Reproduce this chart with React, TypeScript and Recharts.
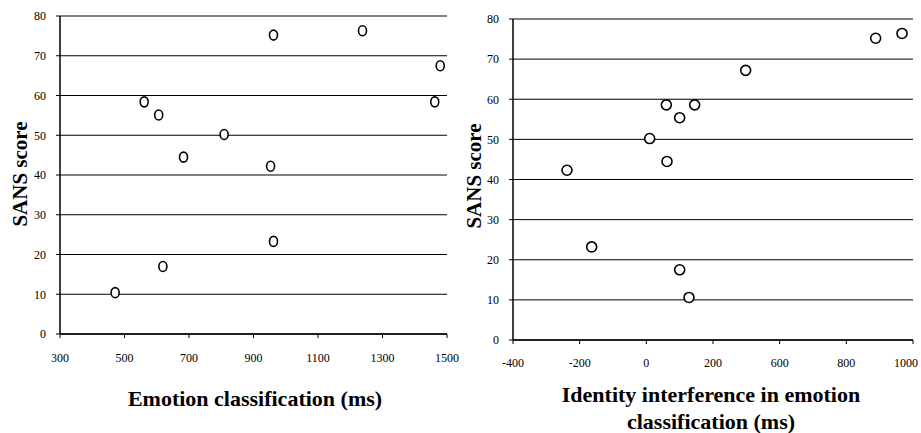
import React from "react";
import { ScatterChart, Scatter, XAxis, YAxis, CartesianGrid } from "recharts";

// Left panel: Emotion classification (ms) vs SANS score
const leftX = [471, 561, 606, 619, 683, 809, 953, 962, 962, 1238, 1462, 1479];
const leftY = [10.4, 58.4, 55.1, 17, 44.5, 50.2, 42.2, 75.2, 23.3, 76.3, 58.4, 67.5];
const leftXTicks = [300, 500, 700, 900, 1100, 1300, 1500];

// Right panel: Identity interference in emotion classification (ms) vs SANS score
const rightX = [-238, -164, 10, 60, 62, 100, 100, 128, 145, 298, 688, 767];
const rightY = [42.3, 23.2, 50.2, 58.6, 44.5, 55.4, 17.5, 10.6, 58.6, 67.2, 75.2, 76.4];
const rightXTicks = [-400, -200, 0, 200, 400, 600, 800];
const rightXTickLabels = ["-400", "-200", "0", "200", "600", "800", "1000"];

const yTicks = [0, 10, 20, 30, 40, 50, 60, 70, 80];

const leftData = leftX.map((x, i) => ({ x, y: leftY[i] }));
const rightData = rightX.map((x, i) => ({ x, y: rightY[i] }));

const FONT = "'Liberation Serif', 'Times New Roman', serif";
const tickStyle = { fontFamily: FONT, fontSize: 12, fill: "#000" };

const makeShape = (rx: number, ry: number) => (props: any) => {
  const { cx, cy } = props;
  if (cx == null || cy == null) return <g />;
  return <ellipse cx={cx} cy={cy} rx={rx} ry={ry} fill="#fff" stroke="#000" strokeWidth={1.6} />;
};

const RightXTick = (props: any) => {
  const { x, y, payload } = props;
  const idx = rightXTicks.indexOf(payload.value);
  const label = rightXTickLabels[idx] ?? String(payload.value);
  const last = idx === rightXTicks.length - 1;
  return (
    <text
      x={last ? x + 5 : x}
      y={y}
      dy="0.71em"
      textAnchor={last ? "end" : "middle"}
      fontFamily={FONT}
      fontSize={12}
      fill="#000"
    >
      {label}
    </text>
  );
};

const titleStyle: React.CSSProperties = {
  position: "absolute",
  fontFamily: FONT,
  fontWeight: "bold",
  fontSize: 22,
  color: "#000",
  whiteSpace: "nowrap",
  textAlign: "center",
  transform: "translate(-50%, -50%)",
  lineHeight: "27px",
};

const yTitleStyle: React.CSSProperties = {
  position: "absolute",
  fontFamily: FONT,
  fontWeight: "bold",
  fontSize: 21,
  color: "#000",
  whiteSpace: "nowrap",
  transform: "translate(-50%, -50%) rotate(-90deg)",
};

export default function App() {
  return (
    <div style={{ position: "absolute", left: 0, top: 0, width: 921, height: 433, background: "#fff", overflow: "hidden" }}>
      <div style={{ position: "absolute", left: 0, top: 0 }}>
        <ScatterChart width={460} height={433} margin={{ top: 16, right: 13, bottom: 69, left: 0 }}>
          <CartesianGrid vertical={false} stroke="#000" strokeWidth={1} />
          <XAxis
            type="number"
            dataKey="x"
            domain={[300, 1500]}
            ticks={leftXTicks}
            interval={0}
            height={30}
            tick={tickStyle}
            tickSize={4}
            tickMargin={15}
            axisLine={{ stroke: "#000", strokeWidth: 1.5 }}
            tickLine={{ stroke: "#000" }}
          />
          <YAxis
            type="number"
            dataKey="y"
            domain={[0, 80]}
            ticks={yTicks}
            interval={0}
            width={60}
            tick={tickStyle}
            tickSize={4}
            tickMargin={10}
            axisLine={{ stroke: "#000", strokeWidth: 1.5 }}
            tickLine={{ stroke: "#000" }}
          />
          <Scatter data={leftData} shape={makeShape(4, 5)} isAnimationActive={false} />
        </ScatterChart>
      </div>
      <div style={{ position: "absolute", left: 453, top: 0 }}>
        <ScatterChart width={468} height={433} margin={{ top: 19, right: 8, bottom: 63, left: 0 }}>
          <CartesianGrid vertical={false} stroke="#000" strokeWidth={1} />
          <XAxis
            type="number"
            dataKey="x"
            domain={[-400, 800]}
            ticks={rightXTicks}
            interval={0}
            height={30}
            tick={<RightXTick />}
            tickSize={4}
            tickMargin={14}
            axisLine={{ stroke: "#000", strokeWidth: 1.5 }}
            tickLine={{ stroke: "#000" }}
          />
          <YAxis
            type="number"
            dataKey="y"
            domain={[0, 80]}
            ticks={yTicks}
            interval={0}
            width={60}
            tick={tickStyle}
            tickSize={4}
            tickMargin={10}
            axisLine={{ stroke: "#000", strokeWidth: 1.5 }}
            tickLine={{ stroke: "#000" }}
          />
          <Scatter data={rightData} shape={makeShape(5, 5)} isAnimationActive={false} />
        </ScatterChart>
      </div>
      <div style={{ ...yTitleStyle, left: 20, top: 174 }}>SANS score</div>
      <div style={{ ...yTitleStyle, left: 474, top: 176 }}>SANS score</div>
      <div style={{ ...titleStyle, left: 255, top: 398 }}>Emotion classification (ms)</div>
      <div style={{ ...titleStyle, left: 711, top: 408 }}>
        Identity interference in emotion
        <br />
        classification (ms)
      </div>
    </div>
  );
}
